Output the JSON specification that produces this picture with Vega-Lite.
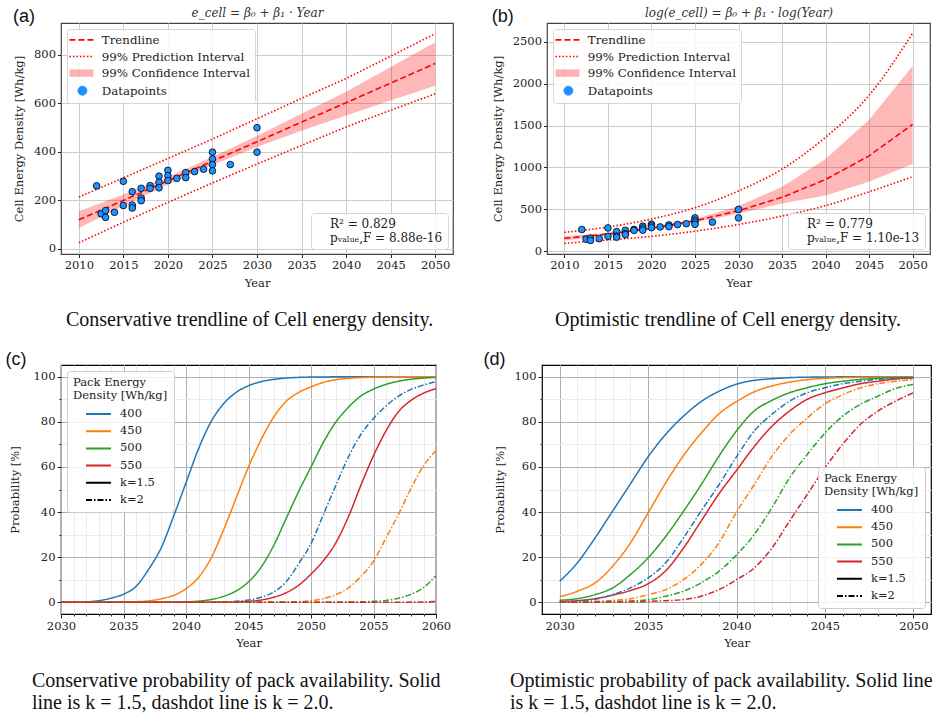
{
  "$schema": "https://vega.github.io/schema/vega-lite/v6.json",
  "background": "white",
  "datasets": {
    "pts": [
      {"year":2012,"e":260},{"year":2012.5,"e":145},{"year":2013,"e":158},{"year":2013,"e":130},{"year":2014,"e":151},
      {"year":2015,"e":279},{"year":2015,"e":179},{"year":2016,"e":236},{"year":2016,"e":181},{"year":2016,"e":169},
      {"year":2017,"e":250},{"year":2017,"e":210},{"year":2017,"e":199},{"year":2018,"e":261},{"year":2018,"e":250},
      {"year":2019,"e":300},{"year":2019,"e":275},{"year":2019,"e":252},{"year":2020,"e":324},{"year":2020,"e":302},
      {"year":2020,"e":282},{"year":2021,"e":291},{"year":2022,"e":315},{"year":2022,"e":294},{"year":2023,"e":319},
      {"year":2024,"e":329},{"year":2025,"e":399},{"year":2025,"e":371},{"year":2025,"e":348},{"year":2025,"e":322},
      {"year":2027,"e":348},{"year":2030,"e":500},{"year":2030,"e":399}
    ],
    "fitA": [
      {"year":2010,"trend":120,"ci_lo":86,"ci_hi":155,"pi_lo":25,"pi_hi":214},
      {"year":2015,"trend":200,"ci_lo":177,"ci_hi":224,"pi_lo":110,"pi_hi":293},
      {"year":2020,"trend":281,"ci_lo":266,"ci_hi":297,"pi_lo":192,"pi_hi":373},
      {"year":2025,"trend":362,"ci_lo":346,"ci_hi":379,"pi_lo":272,"pi_hi":453},
      {"year":2030,"trend":442,"ci_lo":420,"ci_hi":467,"pi_lo":350,"pi_hi":537},
      {"year":2035,"trend":523,"ci_lo":487,"ci_hi":558,"pi_lo":427,"pi_hi":621},
      {"year":2040,"trend":603,"ci_lo":550,"ci_hi":648,"pi_lo":503,"pi_hi":703},
      {"year":2045,"trend":684,"ci_lo":612,"ci_hi":750,"pi_lo":572,"pi_hi":795},
      {"year":2050,"trend":765,"ci_lo":673,"ci_hi":853,"pi_lo":640,"pi_hi":888}
    ],
    "fitB": [
      {"year":2010,"trend":155,"ci_lo":130,"ci_hi":180,"pi_lo":95,"pi_hi":226},
      {"year":2015,"trend":206,"ci_lo":192,"ci_hi":222,"pi_lo":135,"pi_hi":290},
      {"year":2020,"trend":274,"ci_lo":262,"ci_hi":287,"pi_lo":178,"pi_hi":385},
      {"year":2025,"trend":364,"ci_lo":345,"ci_hi":385,"pi_lo":240,"pi_hi":520},
      {"year":2030,"trend":484,"ci_lo":450,"ci_hi":540,"pi_lo":320,"pi_hi":720},
      {"year":2035,"trend":644,"ci_lo":570,"ci_hi":770,"pi_lo":420,"pi_hi":980},
      {"year":2040,"trend":856,"ci_lo":665,"ci_hi":1100,"pi_lo":545,"pi_hi":1360},
      {"year":2045,"trend":1138,"ci_lo":830,"ci_hi":1570,"pi_lo":710,"pi_hi":1860},
      {"year":2050,"trend":1514,"ci_lo":1040,"ci_hi":2210,"pi_lo":890,"pi_hi":2600}
    ],
    "statsA": [{"s":"R² = 0.829"},{"s":"pᵥₐₗᵤₑ,F = 8.88e-16"}],
    "statsB": [{"s":"R² = 0.779"},{"s":"pᵥₐₗᵤₑ,F = 1.10e-13"}],
    "probC": [
      {"year":2030,"d":"400","k":"1.5","p":0},{"year":2031,"d":"400","k":"1.5","p":0.05},{"year":2032,"d":"400","k":"1.5","p":0.2},{"year":2033,"d":"400","k":"1.5","p":0.7},{"year":2034,"d":"400","k":"1.5","p":1.8},{"year":2035,"d":"400","k":"1.5","p":3.6},{"year":2036,"d":"400","k":"1.5","p":7},{"year":2037,"d":"400","k":"1.5","p":14.5},{"year":2038,"d":"400","k":"1.5","p":24},{"year":2039,"d":"400","k":"1.5","p":38},{"year":2040,"d":"400","k":"1.5","p":53},{"year":2041,"d":"400","k":"1.5","p":68},{"year":2042,"d":"400","k":"1.5","p":80},{"year":2043,"d":"400","k":"1.5","p":88},{"year":2044,"d":"400","k":"1.5","p":93},{"year":2045,"d":"400","k":"1.5","p":96},{"year":2046,"d":"400","k":"1.5","p":97.8},{"year":2047,"d":"400","k":"1.5","p":98.8},{"year":2048,"d":"400","k":"1.5","p":99.4},{"year":2049,"d":"400","k":"1.5","p":99.7},{"year":2050,"d":"400","k":"1.5","p":99.85},{"year":2052,"d":"400","k":"1.5","p":99.95},{"year":2055,"d":"400","k":"1.5","p":100},{"year":2060,"d":"400","k":"1.5","p":100},
      {"year":2030,"d":"450","k":"1.5","p":0},{"year":2034,"d":"450","k":"1.5","p":0.05},{"year":2035,"d":"450","k":"1.5","p":0.1},{"year":2036,"d":"450","k":"1.5","p":0.25},{"year":2037,"d":"450","k":"1.5","p":0.6},{"year":2038,"d":"450","k":"1.5","p":1.5},{"year":2039,"d":"450","k":"1.5","p":3},{"year":2040,"d":"450","k":"1.5","p":6},{"year":2041,"d":"450","k":"1.5","p":11},{"year":2042,"d":"450","k":"1.5","p":19.5},{"year":2043,"d":"450","k":"1.5","p":32},{"year":2044,"d":"450","k":"1.5","p":46},{"year":2045,"d":"450","k":"1.5","p":60},{"year":2046,"d":"450","k":"1.5","p":72},{"year":2047,"d":"450","k":"1.5","p":82},{"year":2048,"d":"450","k":"1.5","p":89},{"year":2049,"d":"450","k":"1.5","p":93},{"year":2050,"d":"450","k":"1.5","p":95.5},{"year":2051,"d":"450","k":"1.5","p":97.5},{"year":2052,"d":"450","k":"1.5","p":98.7},{"year":2053,"d":"450","k":"1.5","p":99.3},{"year":2054,"d":"450","k":"1.5","p":99.6},{"year":2055,"d":"450","k":"1.5","p":99.8},{"year":2057,"d":"450","k":"1.5","p":99.95},{"year":2060,"d":"450","k":"1.5","p":100},
      {"year":2030,"d":"500","k":"1.5","p":0},{"year":2038,"d":"500","k":"1.5","p":0.05},{"year":2039,"d":"500","k":"1.5","p":0.1},{"year":2040,"d":"500","k":"1.5","p":0.2},{"year":2041,"d":"500","k":"1.5","p":0.5},{"year":2042,"d":"500","k":"1.5","p":1.2},{"year":2043,"d":"500","k":"1.5","p":2.6},{"year":2044,"d":"500","k":"1.5","p":5},{"year":2045,"d":"500","k":"1.5","p":9},{"year":2046,"d":"500","k":"1.5","p":15.5},{"year":2047,"d":"500","k":"1.5","p":25},{"year":2048,"d":"500","k":"1.5","p":37},{"year":2049,"d":"500","k":"1.5","p":49},{"year":2050,"d":"500","k":"1.5","p":60},{"year":2051,"d":"500","k":"1.5","p":71},{"year":2052,"d":"500","k":"1.5","p":80},{"year":2053,"d":"500","k":"1.5","p":86.5},{"year":2054,"d":"500","k":"1.5","p":91.5},{"year":2055,"d":"500","k":"1.5","p":94.5},{"year":2056,"d":"500","k":"1.5","p":96.6},{"year":2057,"d":"500","k":"1.5","p":98},{"year":2058,"d":"500","k":"1.5","p":98.9},{"year":2059,"d":"500","k":"1.5","p":99.4},{"year":2060,"d":"500","k":"1.5","p":99.7},
      {"year":2030,"d":"550","k":"1.5","p":0},{"year":2042,"d":"550","k":"1.5","p":0.05},{"year":2043,"d":"550","k":"1.5","p":0.1},{"year":2044,"d":"550","k":"1.5","p":0.2},{"year":2045,"d":"550","k":"1.5","p":0.4},{"year":2046,"d":"550","k":"1.5","p":1},{"year":2047,"d":"550","k":"1.5","p":2.2},{"year":2048,"d":"550","k":"1.5","p":4.2},{"year":2049,"d":"550","k":"1.5","p":7.5},{"year":2050,"d":"550","k":"1.5","p":12.5},{"year":2051,"d":"550","k":"1.5","p":18.5},{"year":2052,"d":"550","k":"1.5","p":26.5},{"year":2053,"d":"550","k":"1.5","p":38},{"year":2054,"d":"550","k":"1.5","p":52},{"year":2055,"d":"550","k":"1.5","p":65},{"year":2056,"d":"550","k":"1.5","p":76},{"year":2057,"d":"550","k":"1.5","p":84.5},{"year":2058,"d":"550","k":"1.5","p":89.5},{"year":2059,"d":"550","k":"1.5","p":92.7},{"year":2060,"d":"550","k":"1.5","p":94.7},
      {"year":2030,"d":"400","k":"2","p":0},{"year":2042,"d":"400","k":"2","p":0.05},{"year":2043,"d":"400","k":"2","p":0.15},{"year":2044,"d":"400","k":"2","p":0.4},{"year":2045,"d":"400","k":"2","p":1},{"year":2046,"d":"400","k":"2","p":2.2},{"year":2047,"d":"400","k":"2","p":4.5},{"year":2048,"d":"400","k":"2","p":9},{"year":2049,"d":"400","k":"2","p":17},{"year":2050,"d":"400","k":"2","p":26},{"year":2051,"d":"400","k":"2","p":39},{"year":2052,"d":"400","k":"2","p":52},{"year":2053,"d":"400","k":"2","p":64.5},{"year":2054,"d":"400","k":"2","p":74.5},{"year":2055,"d":"400","k":"2","p":81.5},{"year":2056,"d":"400","k":"2","p":87},{"year":2057,"d":"400","k":"2","p":91.4},{"year":2058,"d":"400","k":"2","p":94.4},{"year":2059,"d":"400","k":"2","p":96.3},{"year":2060,"d":"400","k":"2","p":97.8},
      {"year":2030,"d":"450","k":"2","p":0},{"year":2047,"d":"450","k":"2","p":0.05},{"year":2048,"d":"450","k":"2","p":0.15},{"year":2049,"d":"450","k":"2","p":0.3},{"year":2050,"d":"450","k":"2","p":0.7},{"year":2051,"d":"450","k":"2","p":1.6},{"year":2052,"d":"450","k":"2","p":3.4},{"year":2053,"d":"450","k":"2","p":6.4},{"year":2054,"d":"450","k":"2","p":11.5},{"year":2055,"d":"450","k":"2","p":18.2},{"year":2056,"d":"450","k":"2","p":28.5},{"year":2057,"d":"450","k":"2","p":39},{"year":2058,"d":"450","k":"2","p":50.5},{"year":2059,"d":"450","k":"2","p":60.5},{"year":2060,"d":"450","k":"2","p":67.3},
      {"year":2030,"d":"500","k":"2","p":0},{"year":2052,"d":"500","k":"2","p":0.05},{"year":2053,"d":"500","k":"2","p":0.1},{"year":2054,"d":"500","k":"2","p":0.2},{"year":2055,"d":"500","k":"2","p":0.4},{"year":2056,"d":"500","k":"2","p":0.8},{"year":2057,"d":"500","k":"2","p":1.8},{"year":2058,"d":"500","k":"2","p":3.5},{"year":2059,"d":"500","k":"2","p":6.5},{"year":2060,"d":"500","k":"2","p":11.8},
      {"year":2030,"d":"550","k":"2","p":0},{"year":2056,"d":"550","k":"2","p":0.02},{"year":2058,"d":"550","k":"2","p":0.08},{"year":2060,"d":"550","k":"2","p":0.3}
    ],
    "probD": [
      {"year":2030,"d":"400","k":"1.5","p":9.3},{"year":2031,"d":"400","k":"1.5","p":17.5},{"year":2032,"d":"400","k":"1.5","p":28.5},{"year":2033,"d":"400","k":"1.5","p":40.5},{"year":2034,"d":"400","k":"1.5","p":52.5},{"year":2035,"d":"400","k":"1.5","p":64.5},{"year":2036,"d":"400","k":"1.5","p":74.5},{"year":2037,"d":"400","k":"1.5","p":82.5},{"year":2038,"d":"400","k":"1.5","p":89},{"year":2039,"d":"400","k":"1.5","p":93.5},{"year":2040,"d":"400","k":"1.5","p":96.7},{"year":2041,"d":"400","k":"1.5","p":98.4},{"year":2042,"d":"400","k":"1.5","p":99.1},{"year":2043,"d":"400","k":"1.5","p":99.6},{"year":2044,"d":"400","k":"1.5","p":99.8},{"year":2045,"d":"400","k":"1.5","p":99.9},{"year":2046,"d":"400","k":"1.5","p":99.95},{"year":2048,"d":"400","k":"1.5","p":100},{"year":2050,"d":"400","k":"1.5","p":100},
      {"year":2030,"d":"450","k":"1.5","p":2.4},{"year":2031,"d":"450","k":"1.5","p":4.9},{"year":2032,"d":"450","k":"1.5","p":8.6},{"year":2033,"d":"450","k":"1.5","p":16},{"year":2034,"d":"450","k":"1.5","p":26.3},{"year":2035,"d":"450","k":"1.5","p":39.6},{"year":2036,"d":"450","k":"1.5","p":53},{"year":2037,"d":"450","k":"1.5","p":65},{"year":2038,"d":"450","k":"1.5","p":75},{"year":2039,"d":"450","k":"1.5","p":83.5},{"year":2040,"d":"450","k":"1.5","p":89},{"year":2041,"d":"450","k":"1.5","p":93.3},{"year":2042,"d":"450","k":"1.5","p":95.9},{"year":2043,"d":"450","k":"1.5","p":97.6},{"year":2044,"d":"450","k":"1.5","p":98.7},{"year":2045,"d":"450","k":"1.5","p":99.3},{"year":2046,"d":"450","k":"1.5","p":99.6},{"year":2047,"d":"450","k":"1.5","p":99.75},{"year":2048,"d":"450","k":"1.5","p":99.85},{"year":2049,"d":"450","k":"1.5","p":99.9},{"year":2050,"d":"450","k":"1.5","p":99.95},
      {"year":2030,"d":"500","k":"1.5","p":0.9},{"year":2031,"d":"500","k":"1.5","p":1.6},{"year":2032,"d":"500","k":"1.5","p":3.4},{"year":2033,"d":"500","k":"1.5","p":6.4},{"year":2034,"d":"500","k":"1.5","p":12.3},{"year":2035,"d":"500","k":"1.5","p":19.7},{"year":2036,"d":"500","k":"1.5","p":29.2},{"year":2037,"d":"500","k":"1.5","p":40.3},{"year":2038,"d":"500","k":"1.5","p":52.1},{"year":2039,"d":"500","k":"1.5","p":64.7},{"year":2040,"d":"500","k":"1.5","p":76},{"year":2041,"d":"500","k":"1.5","p":84.8},{"year":2042,"d":"500","k":"1.5","p":89.5},{"year":2043,"d":"500","k":"1.5","p":92.9},{"year":2044,"d":"500","k":"1.5","p":95.1},{"year":2045,"d":"500","k":"1.5","p":96.9},{"year":2046,"d":"500","k":"1.5","p":98},{"year":2047,"d":"500","k":"1.5","p":98.8},{"year":2048,"d":"500","k":"1.5","p":99.3},{"year":2049,"d":"500","k":"1.5","p":99.5},{"year":2050,"d":"500","k":"1.5","p":99.7},
      {"year":2030,"d":"550","k":"1.5","p":0.3},{"year":2031,"d":"550","k":"1.5","p":0.7},{"year":2032,"d":"550","k":"1.5","p":1.6},{"year":2033,"d":"550","k":"1.5","p":3.2},{"year":2034,"d":"550","k":"1.5","p":5.2},{"year":2035,"d":"550","k":"1.5","p":8.2},{"year":2036,"d":"550","k":"1.5","p":14},{"year":2037,"d":"550","k":"1.5","p":24},{"year":2038,"d":"550","k":"1.5","p":36},{"year":2039,"d":"550","k":"1.5","p":48},{"year":2040,"d":"550","k":"1.5","p":58.5},{"year":2041,"d":"550","k":"1.5","p":69},{"year":2042,"d":"550","k":"1.5","p":78},{"year":2043,"d":"550","k":"1.5","p":84.8},{"year":2044,"d":"550","k":"1.5","p":90},{"year":2045,"d":"550","k":"1.5","p":92.9},{"year":2046,"d":"550","k":"1.5","p":95},{"year":2047,"d":"550","k":"1.5","p":96.9},{"year":2048,"d":"550","k":"1.5","p":98},{"year":2049,"d":"550","k":"1.5","p":99},{"year":2050,"d":"550","k":"1.5","p":99.5},
      {"year":2030,"d":"400","k":"2","p":0.1},{"year":2031,"d":"400","k":"2","p":0.5},{"year":2032,"d":"400","k":"2","p":1.3},{"year":2033,"d":"400","k":"2","p":3.4},{"year":2034,"d":"400","k":"2","p":6.4},{"year":2035,"d":"400","k":"2","p":10.8},{"year":2036,"d":"400","k":"2","p":17.5},{"year":2037,"d":"400","k":"2","p":28.5},{"year":2038,"d":"400","k":"2","p":40.5},{"year":2039,"d":"400","k":"2","p":52},{"year":2040,"d":"400","k":"2","p":64.5},{"year":2041,"d":"400","k":"2","p":75.9},{"year":2042,"d":"400","k":"2","p":83.3},{"year":2043,"d":"400","k":"2","p":89.2},{"year":2044,"d":"400","k":"2","p":92.9},{"year":2045,"d":"400","k":"2","p":95.1},{"year":2046,"d":"400","k":"2","p":96.9},{"year":2047,"d":"400","k":"2","p":98},{"year":2048,"d":"400","k":"2","p":98.8},{"year":2049,"d":"400","k":"2","p":99.3},{"year":2050,"d":"400","k":"2","p":99.5},
      {"year":2030,"d":"450","k":"2","p":0.05},{"year":2031,"d":"450","k":"2","p":0.15},{"year":2032,"d":"450","k":"2","p":0.4},{"year":2033,"d":"450","k":"2","p":0.8},{"year":2034,"d":"450","k":"2","p":1.6},{"year":2035,"d":"450","k":"2","p":3.4},{"year":2036,"d":"450","k":"2","p":5.6},{"year":2037,"d":"450","k":"2","p":10},{"year":2038,"d":"450","k":"2","p":16.7},{"year":2039,"d":"450","k":"2","p":26.3},{"year":2040,"d":"450","k":"2","p":40},{"year":2041,"d":"450","k":"2","p":52.1},{"year":2042,"d":"450","k":"2","p":64.7},{"year":2043,"d":"450","k":"2","p":74.4},{"year":2044,"d":"450","k":"2","p":81.7},{"year":2045,"d":"450","k":"2","p":88},{"year":2046,"d":"450","k":"2","p":92},{"year":2047,"d":"450","k":"2","p":95},{"year":2048,"d":"450","k":"2","p":96.9},{"year":2049,"d":"450","k":"2","p":98},{"year":2050,"d":"450","k":"2","p":98.7},
      {"year":2030,"d":"500","k":"2","p":0},{"year":2031,"d":"500","k":"2","p":0.05},{"year":2032,"d":"500","k":"2","p":0.15},{"year":2033,"d":"500","k":"2","p":0.3},{"year":2034,"d":"500","k":"2","p":0.6},{"year":2035,"d":"500","k":"2","p":1.1},{"year":2036,"d":"500","k":"2","p":2.7},{"year":2037,"d":"500","k":"2","p":4.9},{"year":2038,"d":"500","k":"2","p":8.6},{"year":2039,"d":"500","k":"2","p":13.7},{"year":2040,"d":"500","k":"2","p":21},{"year":2041,"d":"500","k":"2","p":30},{"year":2042,"d":"500","k":"2","p":41.9},{"year":2043,"d":"500","k":"2","p":55.2},{"year":2044,"d":"500","k":"2","p":65.5},{"year":2045,"d":"500","k":"2","p":75},{"year":2046,"d":"500","k":"2","p":82.5},{"year":2047,"d":"500","k":"2","p":87.7},{"year":2048,"d":"500","k":"2","p":91.4},{"year":2049,"d":"500","k":"2","p":94.8},{"year":2050,"d":"500","k":"2","p":96.6},
      {"year":2030,"d":"550","k":"2","p":0},{"year":2032,"d":"550","k":"2","p":0.05},{"year":2033,"d":"550","k":"2","p":0.1},{"year":2034,"d":"550","k":"2","p":0.2},{"year":2035,"d":"550","k":"2","p":0.35},{"year":2036,"d":"550","k":"2","p":0.7},{"year":2037,"d":"550","k":"2","p":1.2},{"year":2038,"d":"550","k":"2","p":2.7},{"year":2039,"d":"550","k":"2","p":5.6},{"year":2040,"d":"550","k":"2","p":10},{"year":2041,"d":"550","k":"2","p":15.2},{"year":2042,"d":"550","k":"2","p":24},{"year":2043,"d":"550","k":"2","p":36},{"year":2044,"d":"550","k":"2","p":47.8},{"year":2045,"d":"550","k":"2","p":59.6},{"year":2046,"d":"550","k":"2","p":70},{"year":2047,"d":"550","k":"2","p":78.8},{"year":2048,"d":"550","k":"2","p":84.8},{"year":2049,"d":"550","k":"2","p":89.2},{"year":2050,"d":"550","k":"2","p":92.9}
    ]
  },
  "spacing": 20,
  "resolve": {"scale": {"color": "independent", "shape": "independent", "strokeDash": "independent", "x": "independent", "y": "independent"}, "legend": {"color": "independent", "shape": "independent", "strokeDash": "independent"}},
  "vconcat": [
    {
      "spacing": 37,
      "resolve": {"scale": {"color": "independent", "shape": "independent", "strokeDash": "independent", "x": "independent", "y": "independent"}, "legend": {"color": "independent", "shape": "independent", "strokeDash": "independent"}},
      "hconcat": [
        {
          "title": {"text": "(a)", "anchor": "start", "frame": "bounds", "font": "Liberation Sans", "fontSize": 18, "fontWeight": "normal", "color": "#111", "offset": 0, "dy": 21, "dx": 0},
          "resolve": {"scale": {"color": "independent", "shape": "independent"}, "legend": {"color": "independent", "shape": "independent"}},
          "vconcat": [
            {
              "width": 392, "height": 231,
              "view": {"stroke": "#444", "strokeWidth": 1.2},
              "title": {"text": "Conservative trendline of Cell energy density.", "orient": "bottom", "anchor": "start", "frame": "group", "font": "Liberation Serif", "fontSize": 20, "fontWeight": "normal", "color": "#111", "offset": 21, "dx": 5},
              "resolve": {"axis": {"x": "independent"}},
              "layer": [
                {
                  "data": {"name": "fitA"},
                  "mark": {"type": "area", "fillOpacity": 0.28},
                  "encoding": {
                    "x": {"field": "year", "type": "quantitative", "scale": {"domain": [2008, 2052], "nice": false, "zero": false}, "axis": {"orient": "bottom", "values": [2010,2015,2020,2025,2030,2035,2040,2045,2050], "format": "d", "title": "Year"}},
                    "y": {"field": "ci_lo", "type": "quantitative", "scale": {"domain": [-21, 932], "nice": false}, "axis": {"values": [0,200,400,600,800], "title": "Cell Energy Density [Wh/kg]"}},
                    "y2": {"field": "ci_hi"},
                    "color": {"datum": "99% Confidence Interval", "type": "nominal",
                      "scale": {"domain": ["Trendline","99% Prediction Interval","99% Confidence Interval","Datapoints"], "range": ["#ff0000","#ff0000","#ff0000","#1e90ff"]},
                      "legend": {"title": null, "orient": "top-left", "offset": 6, "padding": 5, "fillColor": "rgba(255,255,255,0.85)", "strokeColor": "#d6d6d6", "cornerRadius": 3, "symbolSize": 225, "labelOffset": 18, "rowPadding": 3.6, "labelFontSize": 11.8, "labelColor": "#222",
                        "encode": {"symbols": {"update": {
                          "shape": {"signal": "datum.value === 'Datapoints' ? 'M0,0A0.6,0.6 0 1,0 1.2,0A0.6,0.6 0 1,0 0,0Z' : datum.value === '99% Confidence Interval' ? 'M-1.13,-0.5H2.07V0.5H-1.13Z' : 'M-1.13,0H2.07'"},
                          "size": {"value": 225},
                          "fill": {"signal": "datum.value === 'Datapoints' ? '#1e90ff' : datum.value === '99% Confidence Interval' ? '#ff0000' : 'transparent'"},
                          "stroke": {"signal": "datum.value === 'Datapoints' ? '#000000' : '#ff0000'"},
                          "strokeDash": {"signal": "datum.value === 'Trendline' ? [6,3] : datum.value === '99% Prediction Interval' ? [1.5,2] : [1,0]"},
                          "strokeWidth": {"signal": "datum.value === 'Datapoints' ? 0.8 : datum.value === '99% Confidence Interval' ? 0 : 1.6"},
                          "opacity": {"value": 1}, "fillOpacity": {"signal": "datum.value === '99% Confidence Interval' ? 0.3 : 1"}, "strokeOpacity": {"signal": "datum.value === '99% Confidence Interval' ? 0 : 1"}
                        }}}
                      }
                    }
                  }
                },
                {
                  "data": {"name": "fitA"},
                  "mark": {"type": "line", "strokeDash": [6, 3], "strokeWidth": 1.6},
                  "encoding": {"x": {"field": "year", "type": "quantitative", "axis": {"orient": "top", "title": "e_cell = β₀ + β₁ · Year", "titleFont": "DejaVu Serif", "titleFontStyle": "italic", "titleFontSize": 12, "titleColor": "#333", "titlePadding": 4, "labels": false, "ticks": false, "grid": false, "domain": false, "minExtent": 0, "maxExtent": 0}}, "y": {"field": "trend", "type": "quantitative"}, "color": {"datum": "Trendline", "type": "nominal"}}
                },
                {
                  "data": {"name": "fitA"},
                  "mark": {"type": "line", "strokeDash": [1.5, 2], "strokeWidth": 1.6},
                  "encoding": {"x": {"field": "year", "type": "quantitative", "axis": null}, "y": {"field": "pi_hi", "type": "quantitative"}, "color": {"datum": "99% Prediction Interval", "type": "nominal"}}
                },
                {
                  "data": {"name": "fitA"},
                  "mark": {"type": "line", "strokeDash": [1.5, 2], "strokeWidth": 1.6},
                  "encoding": {"x": {"field": "year", "type": "quantitative", "axis": null}, "y": {"field": "pi_lo", "type": "quantitative"}, "color": {"datum": "99% Prediction Interval", "type": "nominal"}}
                },
                {
                  "data": {"name": "pts"},
                  "mark": {"type": "point", "filled": true, "size": 45, "stroke": "#000", "strokeWidth": 0.8, "opacity": 1},
                  "encoding": {"x": {"field": "year", "type": "quantitative", "axis": null}, "y": {"field": "e", "type": "quantitative"}, "color": {"datum": "Datapoints", "type": "nominal"}}
                },
                {
                  "data": {"name": "statsA"},
                  "mark": {"type": "point", "opacity": 0},
                  "encoding": {"shape": {"field": "s", "type": "nominal", "scale": {"domain": ["R² = 0.829","pᵥₐₗᵤₑ,F = 8.88e-16"], "range": ["circle","circle"]},
                    "legend": {"title": null, "orient": "bottom-right", "offset": 5, "padding": 5, "fillColor": "rgba(255,255,255,0.85)", "strokeColor": "#d6d6d6", "cornerRadius": 3, "symbolSize": 1, "symbolOpacity": 0, "labelOffset": 2, "labelFontSize": 12, "rowPadding": 2, "labelColor": "#222"}}}
                }
              ]
            }
          ]
        },
        {
          "title": {"text": "(b)", "anchor": "start", "frame": "bounds", "font": "Liberation Sans", "fontSize": 18, "fontWeight": "normal", "color": "#111", "offset": 0, "dy": 21, "dx": 0},
          "resolve": {"scale": {"color": "independent", "shape": "independent"}, "legend": {"color": "independent", "shape": "independent"}},
          "vconcat": [
            {
              "width": 383, "height": 231,
              "view": {"stroke": "#444", "strokeWidth": 1.2},
              "title": {"text": "Optimistic trendline of Cell energy density.", "orient": "bottom", "anchor": "start", "frame": "group", "font": "Liberation Serif", "fontSize": 20, "fontWeight": "normal", "color": "#111", "offset": 21, "dx": 8},
              "resolve": {"axis": {"x": "independent"}},
              "layer": [
                {
                  "data": {"name": "fitB"},
                  "mark": {"type": "area", "fillOpacity": 0.28},
                  "encoding": {
                    "x": {"field": "year", "type": "quantitative", "scale": {"domain": [2008, 2052], "nice": false, "zero": false}, "axis": {"orient": "bottom", "values": [2010,2015,2020,2025,2030,2035,2040,2045,2050], "format": "d", "title": "Year"}},
                    "y": {"field": "ci_lo", "type": "quantitative", "scale": {"domain": [-32, 2723], "nice": false}, "axis": {"values": [0,500,1000,1500,2000,2500], "format": "d", "title": "Cell Energy Density [Wh/kg]"}},
                    "y2": {"field": "ci_hi"},
                    "color": {"datum": "99% Confidence Interval", "type": "nominal",
                      "scale": {"domain": ["Trendline","99% Prediction Interval","99% Confidence Interval","Datapoints"], "range": ["#ff0000","#ff0000","#ff0000","#1e90ff"]},
                      "legend": {"title": null, "orient": "top-left", "offset": 6, "padding": 5, "fillColor": "rgba(255,255,255,0.85)", "strokeColor": "#d6d6d6", "cornerRadius": 3, "symbolSize": 225, "labelOffset": 18, "rowPadding": 3.6, "labelFontSize": 11.8, "labelColor": "#222",
                        "encode": {"symbols": {"update": {
                          "shape": {"signal": "datum.value === 'Datapoints' ? 'M0,0A0.6,0.6 0 1,0 1.2,0A0.6,0.6 0 1,0 0,0Z' : datum.value === '99% Confidence Interval' ? 'M-1.13,-0.5H2.07V0.5H-1.13Z' : 'M-1.13,0H2.07'"},
                          "size": {"value": 225},
                          "fill": {"signal": "datum.value === 'Datapoints' ? '#1e90ff' : datum.value === '99% Confidence Interval' ? '#ff0000' : 'transparent'"},
                          "stroke": {"signal": "datum.value === 'Datapoints' ? '#000000' : '#ff0000'"},
                          "strokeDash": {"signal": "datum.value === 'Trendline' ? [6,3] : datum.value === '99% Prediction Interval' ? [1.5,2] : [1,0]"},
                          "strokeWidth": {"signal": "datum.value === 'Datapoints' ? 0.8 : datum.value === '99% Confidence Interval' ? 0 : 1.6"},
                          "opacity": {"value": 1}, "fillOpacity": {"signal": "datum.value === '99% Confidence Interval' ? 0.3 : 1"}, "strokeOpacity": {"signal": "datum.value === '99% Confidence Interval' ? 0 : 1"}
                        }}}
                      }
                    }
                  }
                },
                {
                  "data": {"name": "fitB"},
                  "mark": {"type": "line", "strokeDash": [6, 3], "strokeWidth": 1.6},
                  "encoding": {"x": {"field": "year", "type": "quantitative", "axis": {"orient": "top", "title": "log(e_cell) = β₀ + β₁ · log(Year)", "titleFont": "DejaVu Serif", "titleFontStyle": "italic", "titleFontSize": 12, "titleColor": "#333", "titlePadding": 4, "labels": false, "ticks": false, "grid": false, "domain": false, "minExtent": 0, "maxExtent": 0}}, "y": {"field": "trend", "type": "quantitative"}, "color": {"datum": "Trendline", "type": "nominal"}}
                },
                {
                  "data": {"name": "fitB"},
                  "mark": {"type": "line", "strokeDash": [1.5, 2], "strokeWidth": 1.6, "interpolate": "monotone"},
                  "encoding": {"x": {"field": "year", "type": "quantitative", "axis": null}, "y": {"field": "pi_hi", "type": "quantitative"}, "color": {"datum": "99% Prediction Interval", "type": "nominal"}}
                },
                {
                  "data": {"name": "fitB"},
                  "mark": {"type": "line", "strokeDash": [1.5, 2], "strokeWidth": 1.6, "interpolate": "monotone"},
                  "encoding": {"x": {"field": "year", "type": "quantitative", "axis": null}, "y": {"field": "pi_lo", "type": "quantitative"}, "color": {"datum": "99% Prediction Interval", "type": "nominal"}}
                },
                {
                  "data": {"name": "pts"},
                  "mark": {"type": "point", "filled": true, "size": 45, "stroke": "#000", "strokeWidth": 0.8, "opacity": 1},
                  "encoding": {"x": {"field": "year", "type": "quantitative", "axis": null}, "y": {"field": "e", "type": "quantitative"}, "color": {"datum": "Datapoints", "type": "nominal"}}
                },
                {
                  "data": {"name": "statsB"},
                  "mark": {"type": "point", "opacity": 0},
                  "encoding": {"shape": {"field": "s", "type": "nominal", "scale": {"domain": ["R² = 0.779","pᵥₐₗᵤₑ,F = 1.10e-13"], "range": ["circle","circle"]},
                    "legend": {"title": null, "orient": "bottom-right", "offset": 5, "padding": 5, "fillColor": "rgba(255,255,255,0.85)", "strokeColor": "#d6d6d6", "cornerRadius": 3, "symbolSize": 1, "symbolOpacity": 0, "labelOffset": 2, "labelFontSize": 12, "rowPadding": 2, "labelColor": "#222"}}}
                }
              ]
            }
          ]
        }
      ]
    },
    {
      "spacing": 31,
      "resolve": {"scale": {"color": "independent", "shape": "independent", "strokeDash": "independent", "x": "independent", "y": "independent"}, "legend": {"color": "independent", "shape": "independent", "strokeDash": "independent"}},
      "hconcat": [
        {
          "title": {"text": "(c)", "anchor": "start", "frame": "bounds", "font": "Liberation Sans", "fontSize": 18, "fontWeight": "normal", "color": "#111", "offset": 0, "dy": 5, "dx": -3},
          "resolve": {"scale": {"color": "independent", "strokeDash": "independent"}, "legend": {"color": "independent", "strokeDash": "independent"}},
          "vconcat": [
            {
              "width": 375, "height": 249,
              "view": {"stroke": "#000", "strokeWidth": 1.2},
              "title": {"text": ["Conservative probability of pack availability.  Solid", "line is k = 1.5, dashdot line is k = 2.0."], "orient": "bottom", "anchor": "start", "frame": "group", "font": "Liberation Serif", "fontSize": 20, "lineHeight": 22, "fontWeight": "normal", "color": "#111", "offset": 22, "dx": -29},
              "resolve": {"axis": {"x": "independent", "y": "independent"}},
              "layer": [
                {
                  "data": {"name": "probC"},
                  "mark": {"type": "line", "opacity": 0},
                  "encoding": {
                    "x": {"field": "year", "type": "quantitative", "scale": {"domain": [2030, 2060], "nice": false, "zero": false}, "axis": {"orient": "bottom", "values": [2030,2031,2032,2033,2034,2035,2036,2037,2038,2039,2040,2041,2042,2043,2044,2045,2046,2047,2048,2049,2050,2051,2052,2053,2054,2055,2056,2057,2058,2059,2060], "labels": false, "title": null, "grid": true, "gridColor": "#ebebeb", "tickSize": 2}},
                    "y": {"field": "p", "type": "quantitative", "scale": {"domain": [-5.2, 105.2], "nice": false}, "axis": {"orient": "left", "values": [0,10,20,30,40,50,60,70,80,90,100], "labels": false, "title": null, "grid": true, "gridColor": "#ebebeb", "tickSize": 2}}
                  }
                },
                {
                  "data": {"name": "probC"},
                  "mark": {"type": "line", "strokeWidth": 1.5, "interpolate": "monotone"},
                  "encoding": {
                    "x": {"field": "year", "type": "quantitative", "scale": {"domain": [2030, 2060], "nice": false, "zero": false}, "axis": {"orient": "bottom", "values": [2030,2035,2040,2045,2050,2055,2060], "format": "d", "title": "Year", "grid": true, "gridColor": "#b0b0b0", "tickSize": 4}},
                    "y": {"field": "p", "type": "quantitative", "scale": {"domain": [-5.2, 105.2], "nice": false}, "axis": {"orient": "left", "values": [0,20,40,60,80,100], "title": "Probability [%]", "titlePadding": 13, "grid": true, "gridColor": "#b0b0b0", "tickSize": 4}},
                    "color": {"field": "d", "type": "nominal", "scale": {"domain": ["400","450","500","550","k=1.5","k=2"], "range": ["#1f77b4","#ff7f0e","#2ca02c","#d62728","#000000","#000000"]},
                      "legend": {"title": ["Pack Energy", "Density [Wh/kg]"], "orient": "top-left", "offset": 6, "padding": 6, "fillColor": "rgba(255,255,255,0.85)", "strokeColor": "#cccccc", "cornerRadius": 3, "symbolSize": 225, "labelOffset": 30, "rowPadding": 3.2, "titlePadding": 4, "titleLineHeight": 13, "labelFontSize": 11.5, "titleFontSize": 11.5, "labelColor": "#222", "titleColor": "#222", "symbolStrokeWidth": 2,
                        "encode": {"symbols": {"update": {"shape": {"value": "M0.6,0H3.93"}, "strokeDash": {"signal": "datum.value === 'k=2' ? [6,2,1.5,2] : [1,0]"}, "strokeWidth": {"value": 2}}}}}},
                    "strokeDash": {"field": "k", "type": "nominal", "scale": {"domain": ["1.5", "2"], "range": [[1, 0], [6, 2, 1.5, 2]]}, "legend": null}
                  }
                }
              ]
            }
          ]
        },
        {
          "title": {"text": "(d)", "anchor": "start", "frame": "bounds", "font": "Liberation Sans", "fontSize": 18, "fontWeight": "normal", "color": "#111", "offset": 0, "dy": 5, "dx": -10},
          "resolve": {"scale": {"color": "independent", "strokeDash": "independent"}, "legend": {"color": "independent", "strokeDash": "independent"}},
          "vconcat": [
            {
              "width": 389, "height": 249,
              "view": {"stroke": "#000", "strokeWidth": 1.2},
              "title": {"text": ["Optimistic probability of pack availability. Solid line", "is k = 1.5, dashdot line is k = 2.0."], "orient": "bottom", "anchor": "start", "frame": "group", "font": "Liberation Serif", "fontSize": 20, "lineHeight": 22, "fontWeight": "normal", "color": "#111", "offset": 22, "dx": -32},
              "resolve": {"axis": {"x": "independent", "y": "independent"}},
              "layer": [
                {
                  "data": {"name": "probD"},
                  "mark": {"type": "line", "opacity": 0},
                  "encoding": {
                    "x": {"field": "year", "type": "quantitative", "scale": {"domain": [2029, 2051], "nice": false, "zero": false}, "axis": {"orient": "bottom", "values": [2030,2031,2032,2033,2034,2035,2036,2037,2038,2039,2040,2041,2042,2043,2044,2045,2046,2047,2048,2049,2050], "labels": false, "title": null, "grid": true, "gridColor": "#ebebeb", "tickSize": 2}},
                    "y": {"field": "p", "type": "quantitative", "scale": {"domain": [-5.2, 105.2], "nice": false}, "axis": {"orient": "left", "values": [0,10,20,30,40,50,60,70,80,90,100], "labels": false, "title": null, "grid": true, "gridColor": "#ebebeb", "tickSize": 2}}
                  }
                },
                {
                  "data": {"name": "probD"},
                  "mark": {"type": "line", "strokeWidth": 1.5, "interpolate": "monotone"},
                  "encoding": {
                    "x": {"field": "year", "type": "quantitative", "scale": {"domain": [2029, 2051], "nice": false, "zero": false}, "axis": {"orient": "bottom", "values": [2030,2035,2040,2045,2050], "format": "d", "title": "Year", "grid": true, "gridColor": "#b0b0b0", "tickSize": 4}},
                    "y": {"field": "p", "type": "quantitative", "scale": {"domain": [-5.2, 105.2], "nice": false}, "axis": {"orient": "left", "values": [0,20,40,60,80,100], "title": "Probability [%]", "grid": true, "gridColor": "#b0b0b0", "tickSize": 4}},
                    "color": {"field": "d", "type": "nominal", "scale": {"domain": ["400","450","500","550","k=1.5","k=2"], "range": ["#1f77b4","#ff7f0e","#2ca02c","#d62728","#000000","#000000"]},
                      "legend": {"title": ["Pack Energy", "Density [Wh/kg]"], "orient": "bottom-right", "offset": 6, "padding": 6, "fillColor": "rgba(255,255,255,0.85)", "strokeColor": "#cccccc", "cornerRadius": 3, "symbolSize": 225, "labelOffset": 30, "rowPadding": 3.2, "titlePadding": 4, "titleLineHeight": 13, "labelFontSize": 11.5, "titleFontSize": 11.5, "labelColor": "#222", "titleColor": "#222", "symbolStrokeWidth": 2,
                        "encode": {"symbols": {"update": {"shape": {"value": "M0.6,0H3.93"}, "strokeDash": {"signal": "datum.value === 'k=2' ? [6,2,1.5,2] : [1,0]"}, "strokeWidth": {"value": 2}}}}}},
                    "strokeDash": {"field": "k", "type": "nominal", "scale": {"domain": ["1.5", "2"], "range": [[1, 0], [6, 2, 1.5, 2]]}, "legend": null}
                  }
                }
              ]
            }
          ]
        }
      ]
    }
  ],
  "config": {
    "font": "DejaVu Serif",
    "axis": {"labelFont": "DejaVu Serif", "labelFontSize": 11.5, "labelColor": "#222", "titleFont": "DejaVu Serif", "titleFontSize": 11.5, "titleFontWeight": "normal", "titleColor": "#222", "tickColor": "#222", "domain": false, "labelFlush": false, "labelOverlap": false, "gridColor": "#cccccc", "gridWidth": 1, "tickSize": 3.5, "labelPadding": 2},
    "axisX": {"titlePadding": 6},
    "axisY": {"titlePadding": 9},
    "legend": {"labelFont": "DejaVu Serif", "titleFont": "DejaVu Serif", "titleFontWeight": "normal"},
    "title": {"font": "DejaVu Serif"}
  }
}
